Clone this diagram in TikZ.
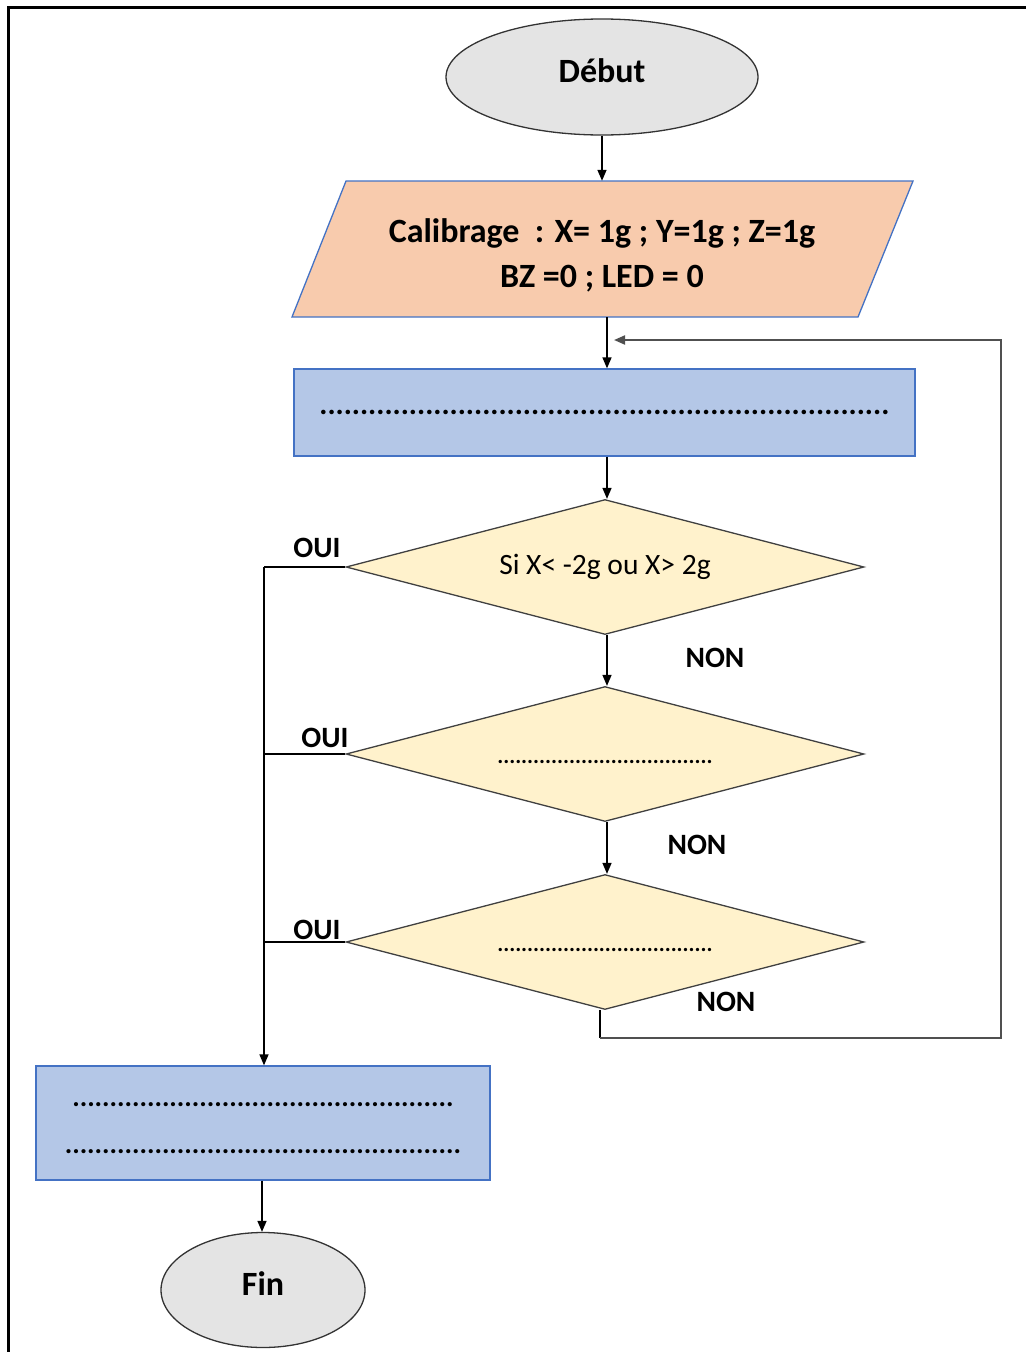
\documentclass[tikz,border=0pt]{standalone}
\usepackage{fontspec}
\setmainfont{Carlito}
\usetikzlibrary{shapes.geometric,arrows.meta}
\definecolor{ellfill}{HTML}{E4E4E4}
\definecolor{parafill}{HTML}{F8CBAD}
\definecolor{boxfill}{HTML}{B4C7E7}
\definecolor{boxline}{HTML}{4472C4}
\definecolor{diafill}{HTML}{FFF2CC}
\definecolor{loopgray}{HTML}{505050}
\newcommand\dotrow[1]{\foreach\i in {1,...,#1}{.}}
\tikzset{
  term/.style={ellipse,draw=black!80,line width=1.3pt,fill=ellfill,minimum width=312pt,minimum height=116pt,inner sep=0pt,font=\fontsize{34}{40}\selectfont\bfseries},
  procbox/.style={rectangle,draw=boxline,line width=1.3pt,fill=boxfill,inner sep=0pt,font=\fontsize{30.5}{36}\selectfont\bfseries},
  decision/.style={diamond,draw=black!75,line width=1.3pt,fill=diafill,minimum width=518pt,minimum height=135pt,inner sep=0pt,aspect=3.8},
  lbl/.style={font=\fontsize{29.5}{34}\selectfont\bfseries,inner sep=0pt},
  conn/.style={line width=1.5pt,-{Triangle[length=11pt,width=9pt]}},
  plain/.style={line width=1.5pt},
  frame/.style={line width=3pt}
}
\begin{document}
\begin{tikzpicture}[x=1pt,y=-1pt]
\useasboundingbox (0,0) rectangle (1026,1352);
\draw[frame] (8.5,1352) -- (8.5,7) -- (1026,7);

\node[term] (debut) at (602,77) {\raisebox{12pt}{Début}};

% parallelogram
\path[fill=parafill,draw=boxline,line width=1.3pt] (346,181) -- (913,181) -- (858,317) -- (292,317) -- cycle;
\node[inner sep=0pt,minimum width=560pt,minimum height=136pt,font=\fontsize{34}{40}\selectfont\bfseries] (calib) at (602,249) {\raisebox{-14pt}[0pt][0pt]{\begin{tabular}{@{}c@{}}Calibrage~ : X= 1g ; Y=1g ; Z=1g\\[5pt]BZ =0 ; LED = 0\end{tabular}}};

\node[procbox,minimum width=621pt,minimum height=87pt] (r1) at (604.5,412.5) {\dotrow{70}};

\node[decision] (d1) at (605,567) {\fontsize{29.5}{34}\selectfont Si X< -2g ou X> 2g};
\node[decision] (d2) at (605,754) {\fontsize{22.4}{26}\selectfont\bfseries\raisebox{-9pt}[0pt][0pt]{\dotrow{36}}};
\node[decision] (d3) at (605,942) {\fontsize{22.4}{26}\selectfont\bfseries\raisebox{-9pt}[0pt][0pt]{\dotrow{36}}};

\node[procbox,minimum width=454pt,minimum height=114pt,font=\fontsize{28}{34}\selectfont\bfseries] (r2) at (263,1123) {\raisebox{-8pt}{\begin{tabular}{@{}c@{}}\dotrow{51}\\[13pt]\dotrow{53}\end{tabular}}};

\node[term,minimum width=204pt,minimum height=115pt] (fin) at (263,1290) {\raisebox{12pt}{Fin}};

% main column
\draw[conn] (debut.south) -- (calib.north);
\draw[conn] (calib.south -| 607,0) -- (r1.north -| 607,0);
\draw[conn] (r1.south -| 607,0) -- (d1.north -| 607,0);
\draw[conn] (d1.south -| 607,0) -- (d2.north -| 607,0);
\draw[conn] (d2.south -| 607,0) -- (d3.north -| 607,0);

% OUI branches
\coordinate (ouicol) at (264,0);
\draw[plain] (d1.west) -- (d1.west -| ouicol);
\draw[conn] (d1.west -| ouicol) -- (r2.north -| ouicol);
\draw[plain] (d2.west) -- (d2.west -| ouicol);
\draw[plain] (d3.west) -- (d3.west -| ouicol);
\draw[conn] (r2.south -| 262,0) -- (fin.north -| 262,0);

% loop back
\coordinate (loopA) at (600,1038);
\coordinate (loopB) at (1001,1038);
\coordinate (loopC) at (1001,340);
\coordinate (loopD) at (614,340);
\draw[line width=2.5pt] (d3.south -| 600,0) -- (loopA);
\draw[line width=2pt,draw=loopgray,-{Triangle[length=11pt,width=9pt]}] (loopA) -- (loopB) -- (loopC) -- (loopD);

% labels
\node[lbl] at (317,548) {OUI};
\node[lbl] at (325,738) {OUI};
\node[lbl] at (317,930) {OUI};
\node[lbl] at (715,658) {NON};
\node[lbl] at (697,845) {NON};
\node[lbl] at (726,1002) {NON};
\end{tikzpicture}
\end{document}
